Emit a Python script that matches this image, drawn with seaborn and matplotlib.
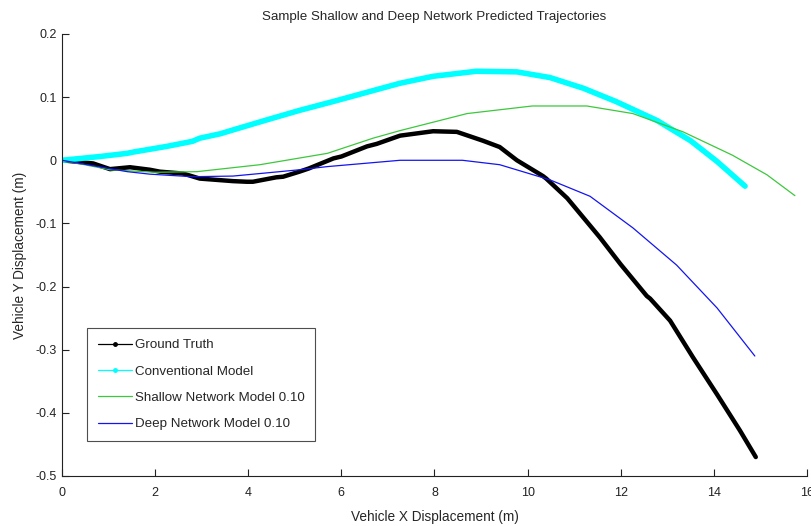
import matplotlib
matplotlib.use("Agg")
import matplotlib.pyplot as plt
from matplotlib.lines import Line2D
import seaborn as sns
import pandas as pd

# ---- data ----
gt_x = [0.0, 0.67, 1.03, 1.46, 1.89, 2.1, 2.6, 2.96, 3.67, 3.97, 4.1, 4.6, 4.75, 5.1, 5.3,
        5.83, 6.0, 6.55, 6.76, 7.26, 7.97, 8.48, 9.04, 9.4, 9.77, 10.33, 10.4, 10.85,
        11.55, 12.0, 12.56, 12.63, 13.06, 13.55, 14.07, 14.56, 14.9]
gt_y = [0.0, -0.005, -0.014, -0.011, -0.015, -0.018, -0.021, -0.029, -0.033, -0.034, -0.034,
        -0.027, -0.026, -0.018, -0.013, 0.003, 0.006, 0.022, 0.026, 0.039, 0.046, 0.045,
        0.031, 0.021, 0.0, -0.025, -0.029, -0.06, -0.122, -0.165, -0.215, -0.219, -0.254,
        -0.312, -0.371, -0.428, -0.470]

conv_x = [0.0, 0.82, 1.4, 1.53, 2.25, 2.8, 2.96, 3.4, 3.67, 4.4, 5.1, 5.82, 7.26, 7.97,
          8.9, 9.77, 10.48, 11.2, 11.9, 12.78, 13.5, 14.07, 14.67]
conv_y = [0.0, 0.006, 0.011, 0.013, 0.022, 0.03, 0.035, 0.042, 0.048, 0.064, 0.079, 0.093,
          0.122, 0.133, 0.141, 0.14, 0.131, 0.114, 0.093, 0.063, 0.031, -0.002, -0.041]

shal_x = [0.0, 1.03, 2.0, 2.9, 4.25, 5.7, 6.68, 7.26, 8.7, 10.1, 11.27, 12.26, 13.34,
          14.4, 15.14, 15.74]
shal_y = [0.0, -0.015, -0.019, -0.018, -0.007, 0.011, 0.035, 0.047, 0.074, 0.086, 0.086,
          0.074, 0.045, 0.008, -0.023, -0.056]

deep_x = [0.0, 1.4, 1.89, 2.8, 3.67, 4.25, 5.1, 5.7, 7.26, 8.6, 9.4, 10.48, 11.34, 12.26,
          13.2, 14.07, 14.88]
deep_y = [0.0, -0.018, -0.022, -0.026, -0.025, -0.021, -0.015, -0.01, 0.0, 0.0, -0.007,
          -0.031, -0.057, -0.107, -0.166, -0.234, -0.31]

labels = ["Ground Truth", "Conventional Model", "Shallow Network Model 0.10",
          "Deep Network Model 0.10"]
colors = ["#000000", "#00FFFF", "#3CC83C", "#1414F0"]
xticks = [0, 2, 4, 6, 8, 10, 12, 14, 16]
yticks = [-0.5, -0.4, -0.3, -0.2, -0.1, 0, 0.1, 0.2]
ytick_labels = ["-0.5", "-0.4", "-0.3", "-0.2", "-0.1", "0", "0.1", "0.2"]

sns.set_style("ticks")
plt.rcParams["font.family"] = ["Liberation Sans", "DejaVu Sans"]
plt.rcParams["font.size"] = 9

fig = plt.figure(figsize=(8.12, 5.26), dpi=100)
ax = fig.add_axes([62 / 812, 1 - 476 / 526, 745 / 812, 442 / 526])

series = [(gt_x, gt_y, 3.2), (conv_x, conv_y, 4.0), (shal_x, shal_y, 0.9), (deep_x, deep_y, 0.9)]
for (xs, ys, lw), lab, col in zip(series, labels, colors):
    df = pd.DataFrame({"x": xs, "y": ys})
    sns.lineplot(data=df, x="x", y="y", ax=ax, color=col, linewidth=lw,
                 sort=False, estimator=None, legend=False)

ax.set_xlim(0, 16)
ax.set_ylim(-0.5, 0.2)
ax.set_xticks(xticks)
ax.set_xticklabels([str(t) for t in xticks])
ax.set_yticks(yticks)
ax.set_yticklabels(ytick_labels)
ax.tick_params(direction="in", length=5, width=0.8, colors="#222222", labelsize=9)
ax.tick_params(axis="x", pad=8)
ax.tick_params(axis="y", pad=4)
for s in ["top", "right"]:
    ax.spines[s].set_visible(False)
for s in ["left", "bottom"]:
    ax.spines[s].set_color("#222222")
    ax.spines[s].set_linewidth(0.8)

ax.set_title("Sample Shallow and Deep Network Predicted Trajectories", fontsize=9.6, pad=10)
ax.set_xlabel("Vehicle X Displacement (m)", fontsize=9.8, labelpad=8)
ax.set_ylabel("Vehicle Y Displacement (m)", fontsize=9.8, labelpad=6)

handles = [
    Line2D([], [], color=colors[0], lw=0.9, marker=".", markersize=5),
    Line2D([], [], color=colors[1], lw=0.9, marker=".", markersize=5),
    Line2D([], [], color=colors[2], lw=0.9),
    Line2D([], [], color=colors[3], lw=0.9),
]
leg = ax.legend(handles, labels, loc="lower left", bbox_to_anchor=(0.0336, 0.079),
                borderaxespad=0, fancybox=False, frameon=True, edgecolor="#222222",
                fontsize=9.6, handlelength=2.6, handletextpad=0.2, labelspacing=1.05,
                borderpad=0.8)
leg.get_frame().set_linewidth(0.8)

fig.savefig("out.png", dpi=100)
